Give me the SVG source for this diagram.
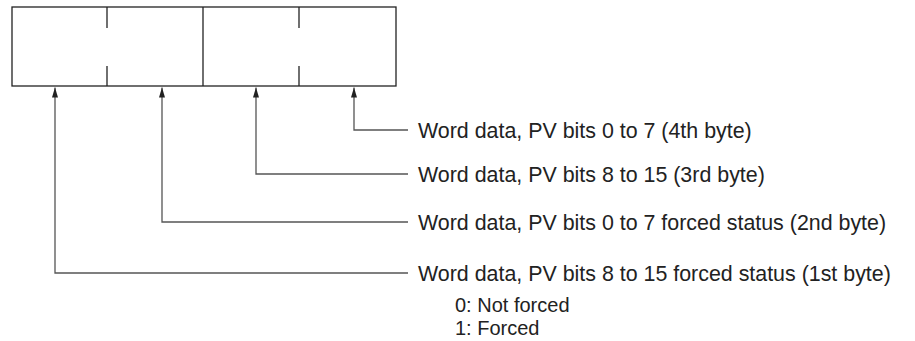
<svg xmlns="http://www.w3.org/2000/svg" width="915" height="341" viewBox="0 0 915 341">
<style>
.box{fill:none;stroke:#222;stroke-width:1.3}
.div{stroke:#222;stroke-width:1.3}
.conn{fill:none;stroke:#555;stroke-width:1.3}
.t{font-family:"Liberation Sans",Arial,sans-serif;font-size:21.4px;fill:#222}
.s{font-family:"Liberation Sans",Arial,sans-serif;font-size:20px;fill:#222}
</style>
<defs>
<marker id="ah" viewBox="0 0 10 6" refX="10" refY="3" markerWidth="10" markerHeight="6" markerUnits="userSpaceOnUse" orient="auto">
<path d="M0,0 L10,3 L0,6 z" fill="#222"/>
</marker>
</defs>
<g id="word">
<rect class="box" x="12" y="7" width="384" height="79"/>
<line class="div" x1="203" y1="7" x2="203" y2="86"/>
<line class="div" x1="107" y1="7" x2="107" y2="28"/>
<line class="div" x1="107" y1="66" x2="107" y2="86"/>
<line class="div" x1="299" y1="7" x2="299" y2="28"/>
<line class="div" x1="299" y1="66" x2="299" y2="86"/>
</g>
<g id="connectors">
<path class="conn" d="M408,130 H354 V87.5" marker-end="url(#ah)"/>
<path class="conn" d="M408,174 H256 V87.5" marker-end="url(#ah)"/>
<path class="conn" d="M408,222 H162 V87.5" marker-end="url(#ah)"/>
<path class="conn" d="M408,273 H55 V87.5" marker-end="url(#ah)"/>
</g>
<g id="label4"><text class="t" x="418" y="138">Word data, PV bits 0 to 7 (4th byte)</text></g>
<g id="label3"><text class="t" x="418" y="182">Word data, PV bits 8 to 15 (3rd byte)</text></g>
<g id="label2"><text class="t" x="418" y="230">Word data, PV bits 0 to 7 forced status (2nd byte)</text></g>
<g id="label1"><text class="t" x="418" y="281">Word data, PV bits 8 to 15 forced status (1st byte)</text>
<text class="s" x="455" y="312">0: Not forced</text>
<text class="s" x="455" y="334.5">1: Forced</text>
</g>
</svg>
